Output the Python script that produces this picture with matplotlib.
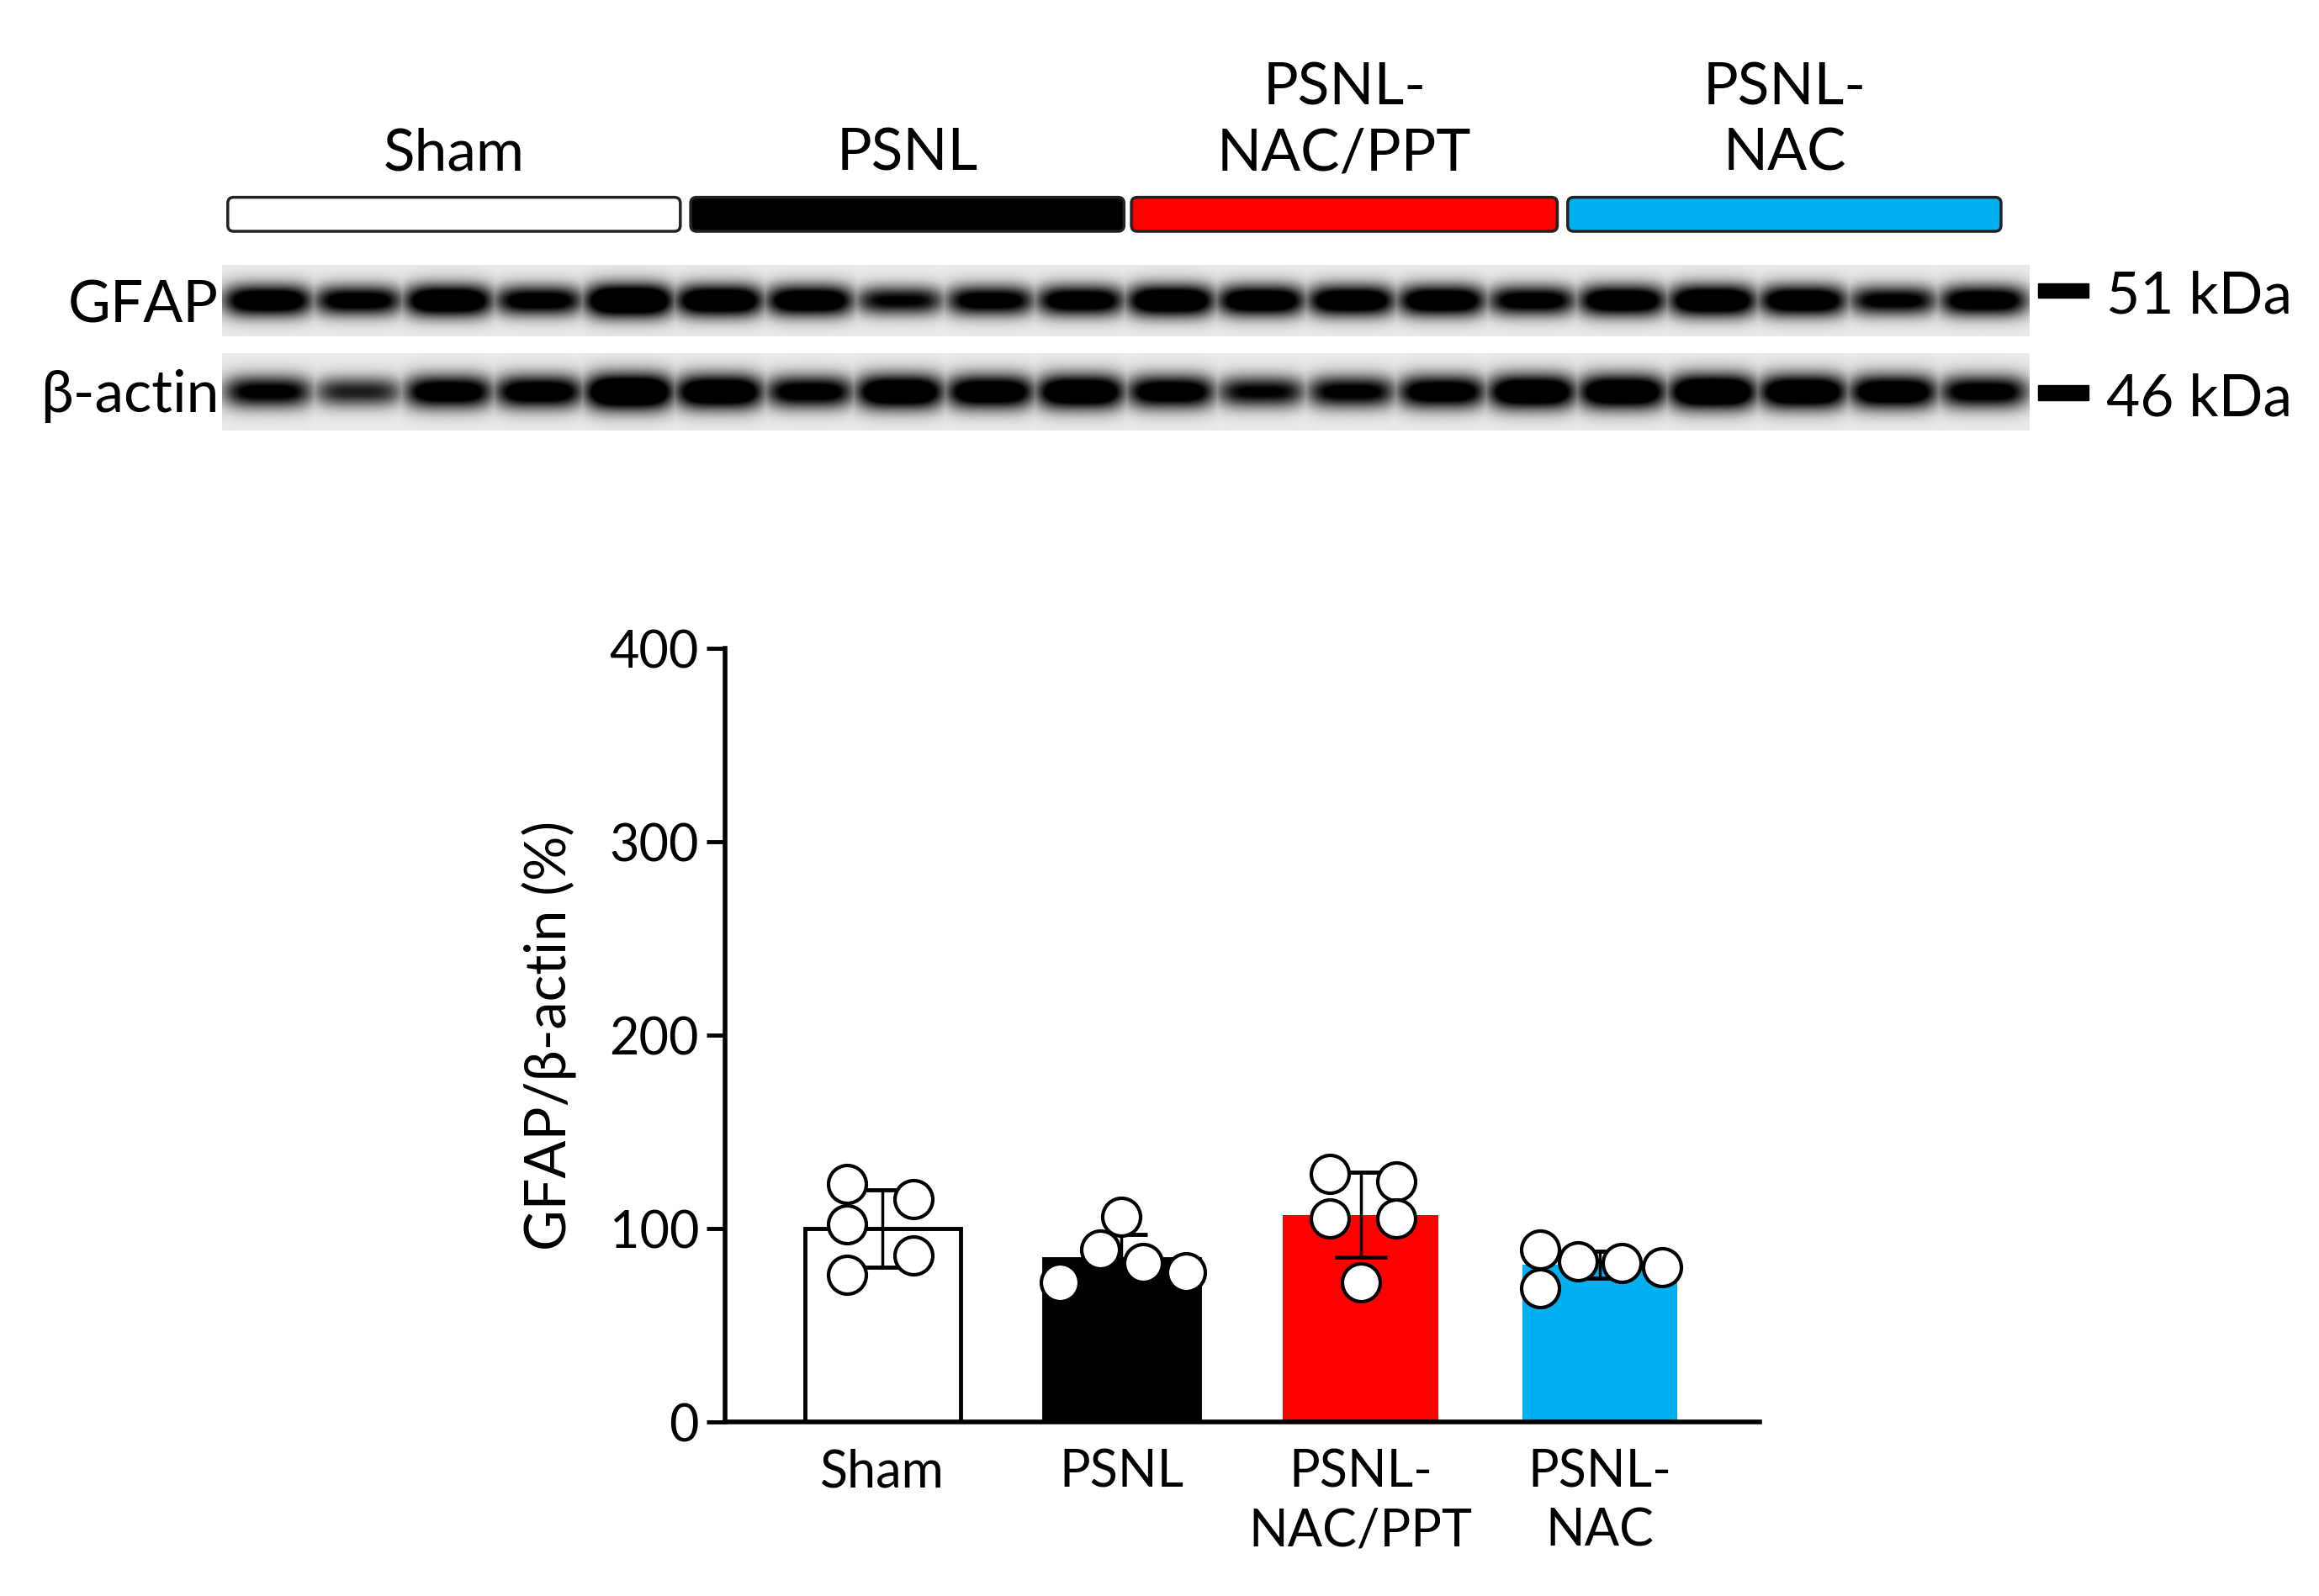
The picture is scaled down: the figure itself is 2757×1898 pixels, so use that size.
import numpy as np
import matplotlib
matplotlib.use("Agg")
import matplotlib.pyplot as plt
from matplotlib.patches import FancyBboxPatch, Rectangle

plt.rcParams["font.family"] = ["Lato", "DejaVu Sans"]

GROUPS = ["Sham", "PSNL", "PSNL-\nNAC/PPT", "PSNL-\nNAC"]
COLORS = ["white", "black", "#ff0000", "#00b0f0"]
MEANS = [100, 84, 107, 81]
SDS = [20, 13, 22, 7]
POINTS = [
    [123, 115, 102, 86, 76],
    [106, 89, 72, 82, 77],
    [128, 124, 105, 105, 72],
    [89, 69, 83, 82, 80],
]
JITTER = [
    [-0.15, 0.13, -0.15, 0.13, -0.15],
    [0.0, -0.09, -0.26, 0.09, 0.27],
    [-0.13, 0.15, -0.13, 0.15, 0.0],
    [-0.25, -0.25, -0.09, 0.09, 0.26],
]
YTICKS = [0, 100, 200, 300, 400]

# blot band strength per lane (0..1), 20 lanes
GFAP_LANES = [0.85, 0.75, 0.9, 0.75, 1.0, 0.9, 0.85, 0.65, 0.75, 0.8,
              0.9, 0.85, 0.85, 0.85, 0.75, 0.85, 0.9, 0.85, 0.7, 0.8]
ACTIN_LANES = [0.7, 0.55, 0.8, 0.8, 1.0, 0.9, 0.75, 0.9, 0.85, 0.9,
               0.8, 0.65, 0.7, 0.8, 0.9, 0.9, 0.95, 0.9, 0.85, 0.75]

W, H = 1568, 1080
fig = plt.figure(figsize=(27.57, 18.99), dpi=100)

# overlay in reference pixel coords
ov = fig.add_axes([0, 0, 1, 1])
ov.axis("off")


def band_image(lanes):
    n = len(lanes)
    xs = np.linspace(0, n, 1000)
    ys = np.linspace(-1, 1, 100)
    X, Y = np.meshgrid(xs, ys)
    img = np.zeros_like(X)
    for i, s in enumerate(lanes):
        c = i + 0.5
        prof_x = np.exp(-((X - c) / 0.5) ** 4)
        prof_y = np.exp(-(Y / (0.3 + 0.18 * s)) ** 2)
        img = np.maximum(img, s * 1.6 * prof_x * prof_y)
    img = np.clip(img, 0, 1)
    return 0.92 - 0.92 * img


for lanes, y0, y1 in [(GFAP_LANES, 180, 228), (ACTIN_LANES, 240, 292)]:
    ov.imshow(band_image(lanes), cmap="gray", vmin=0, vmax=1,
              extent=[150, 1372, y1, y0], aspect="auto", zorder=1)
ov.set_xlim(0, W)
ov.set_ylim(H, 0)

ov.text(148, 207, "GFAP", ha="right", va="center", fontsize=50)
ov.text(148, 268, "β-actin", ha="right", va="center", fontsize=50)
for y, lab in [(197, "51 kDa"), (266, "46 kDa")]:
    ov.add_patch(Rectangle((1378, y - 5), 34, 10, color="black"))
    ov.text(1424, y + 4, lab, ha="left", va="center", fontsize=50)

group_spans = [(154, 460), (467, 760), (765, 1053), (1060, 1353)]
for (x0, x1), col, name in zip(group_spans, COLORS, GROUPS):
    ov.add_patch(FancyBboxPatch((x0, 134), x1 - x0, 23,
                                boxstyle="round,pad=0,rounding_size=4",
                                fc=col, ec="#222222", lw=2.5))
    ov.text((x0 + x1) / 2, 122, name, ha="center", va="bottom",
            fontsize=50, linespacing=1.3)

# bar chart
ax = fig.add_axes([490 / W, 1 - 962 / H, 700 / W, (962 - 439) / H])
x = np.arange(len(GROUPS))
ax.bar(x, MEANS, width=0.65, color=COLORS, edgecolor=["black", "black", "none", "none"],
       linewidth=3.5, zorder=1)
ax.errorbar(x, MEANS, yerr=SDS, fmt="none", ecolor="black", elinewidth=2.5,
            capsize=22, capthick=3.5, zorder=2)
for i, (pts, jit) in enumerate(zip(POINTS, JITTER)):
    ax.scatter(np.array(jit) + i, pts, s=1050, facecolor="white",
               edgecolor="black", linewidth=3, zorder=3)
ax.set_xlim(-0.66, 3.67)
ax.set_ylim(0, 400)
ax.set_yticks(YTICKS)
ax.set_xticks(x)
ax.set_xticklabels(GROUPS, fontsize=44, linespacing=1.3)
ax.tick_params(axis="y", labelsize=44, width=3.5, length=16, pad=6)
ax.tick_params(axis="x", length=0, pad=22)
for sp in ["top", "right"]:
    ax.spines[sp].set_visible(False)
for sp in ["left", "bottom"]:
    ax.spines[sp].set_linewidth(4)
ax.set_ylabel("GFAP/β-actin (%)", fontsize=48, labelpad=28)

fig.savefig("out.png", dpi=100)
